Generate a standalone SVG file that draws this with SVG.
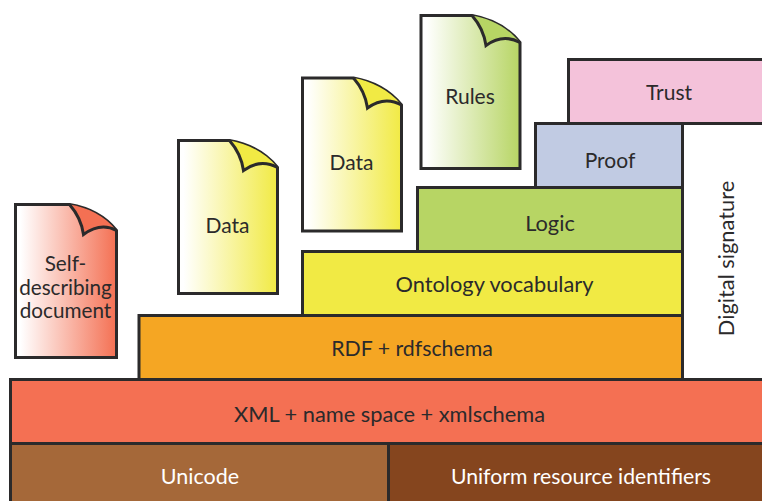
<svg xmlns="http://www.w3.org/2000/svg" width="762" height="501" viewBox="0 0 762 501">
<style>
.b{stroke:#2b2a2b;stroke-width:3}
.d{stroke:#2b2a2b;stroke-width:3;stroke-linejoin:miter;stroke-miterlimit:2}
.f{stroke:none}
.c{fill:none;stroke:#2b2a2b;stroke-width:3;stroke-miterlimit:10}
text{font-family:"Lato","Open Sans",sans-serif;font-size:21px;fill:#2b2a2b;text-anchor:middle}
.l{font-size:21.8px}
.w{fill:#fff}
</style>
<defs>
<linearGradient id="gr"><stop offset="0.05" stop-color="#fff"/><stop offset="1" stop-color="#f47053"/></linearGradient>
<linearGradient id="gy"><stop offset="0.05" stop-color="#fff"/><stop offset="1" stop-color="#f1ea44"/></linearGradient>
<linearGradient id="gg"><stop offset="0.05" stop-color="#fff"/><stop offset="1" stop-color="#b7d564"/></linearGradient>
<path id="sheet" d="M0 0H51C68 3 86 11 99 27V153H0Z"/>
<path id="foldfill" d="M51 0C68 3 86 11 99 27C88 21 76 22 65 30C63 16 58 8 51 0Z"/>
<path id="fold" d="M99 27C88 21 76 22 65 30C63 16 58 8 51 0"/>
<path id="sheetS" d="M0 0H54C72 3 89 11 101 26V153H0Z"/>
<path id="foldfillS" d="M54 0C72 3 89 11 101 26C90 20 79 22 68 30C66 16 61 8 54 0Z"/>
<path id="foldS" d="M101 26C90 20 79 22 68 30C66 16 61 8 54 0"/>
</defs>
<g id="connectors"/>
<g id="trust"><rect class="b" x="568.5" y="59.5" width="200" height="64" fill="#f4c2da"/><text x="669" y="100">Trust</text></g>
<g id="proof"><rect class="b" x="535.5" y="123.5" width="147" height="64" fill="#c1cbe3"/><text x="610" y="168">Proof</text></g>
<g id="logic"><rect class="b" x="417.5" y="187.5" width="265" height="64" fill="#b7d564"/><text class="l" x="550" y="231">Logic</text></g>
<g id="ontology"><rect class="b" x="302.5" y="251.5" width="380" height="64" fill="#f1ea44"/><text class="l" x="494.500" y="292">Ontology vocabulary</text></g>
<g id="rdf"><rect class="b" x="139" y="315.5" width="543.500" height="64" fill="#f5a623"/><text x="412" y="356" style="font-size:21.300px">RDF + rdfschema</text></g>
<g id="xml"><rect class="b" x="10.500" y="379.500" width="760" height="64" fill="#f47053"/><text class="l" x="389.500" y="422">XML + name space + xmlschema</text></g>
<g id="unicode"><rect class="b" x="10.500" y="443.500" width="378" height="70" fill="#a56839"/><text class="w" x="200" y="484" style="font-size:21.500px">Unicode</text></g>
<g id="uri"><rect class="b" x="388.500" y="443.500" width="380" height="70" fill="#85451e"/><text class="w" x="581" y="484" style="font-size:21.200px">Uniform resource identifiers</text></g>
<g id="signature"><text class="l" transform="translate(734 258.500) rotate(-90)">Digital signature</text></g>
<g id="self" transform="translate(15.500 204.500)"><use href="#sheetS" class="d" fill="url(#gr)"/><use href="#foldfillS" class="f" fill="#f47053"/><use href="#foldS" class="c"/><text style="font-size:20.700px"><tspan x="50" y="66">Self-</tspan><tspan x="50" y="90">describing</tspan><tspan x="50" y="113">document</tspan></text></g>
<g id="data1" transform="translate(178.500 140.500)"><use href="#sheet" class="d" fill="url(#gy)"/><use href="#foldfill" class="f" fill="#f1ea44"/><use href="#fold" class="c"/><text x="49" y="92">Data</text></g>
<g id="data2" transform="translate(302.500 78)"><use href="#sheet" class="d" fill="url(#gy)"/><use href="#foldfill" class="f" fill="#f1ea44"/><use href="#fold" class="c"/><text x="49" y="92">Data</text></g>
<g id="rules" transform="translate(421 15.500)"><use href="#sheet" class="d" fill="url(#gg)"/><use href="#foldfill" class="f" fill="#b7d564"/><use href="#fold" class="c"/><text x="49" y="88">Rules</text></g>
</svg>
